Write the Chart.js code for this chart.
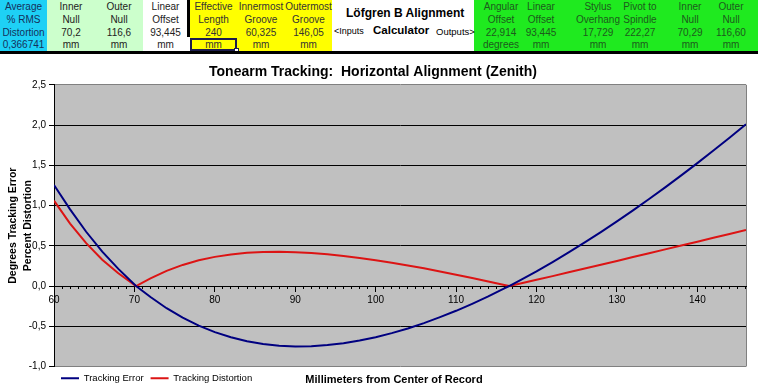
<!DOCTYPE html>
<html>
<head>
<meta charset="utf-8">
<script src="https://cdn.jsdelivr.net/npm/chart.js@4/dist/chart.umd.min.js"></script>
<style>
  body { margin: 0; width: 758px; height: 390px; overflow: hidden; background: #fff; position: relative;
         font-family: 'Liberation Sans', Arial, sans-serif; }
  .abs { position: absolute; }
  .cell { position: absolute; height: 13px; line-height: 13px; font-size: 10px; text-align: center; white-space: nowrap; }
  #chartBox { position: absolute; left: 0; top: 55px; width: 758px; height: 338px; }
  #xTitle { position: absolute; left: 294px; width: 200px; top: 373px; text-align: center;
            font-size: 11px; font-weight: bold; color: #000; }
</style>
</head>
<body>
<div id="sheet"></div>
<div id="chartBox"><canvas id="trackingChart" width="758" height="338"></canvas></div>
<div id="xTitle">Millimeters from Center of Record</div>
<script>
// radius across the record (mm) and the two curves
const radiusMm = [60, 62, 64, 66, 68, 70.2, 72, 74, 76, 78, 80, 82, 84, 86, 88, 90, 92, 94, 96, 98,
  100, 102, 104, 106, 108, 110, 112, 114, 116, 116.6, 118, 120, 122, 124, 126, 128, 130, 132, 134,
  136, 138, 140, 142, 144, 146.05];
const trackingError = [1.255, 0.953, 0.674, 0.428, 0.213, 0, -0.137, -0.276, -0.394, -0.492, -0.573,
  -0.637, -0.685, -0.720, -0.741, -0.750, -0.747, -0.734, -0.711, -0.677, -0.636, -0.585, -0.527,
  -0.461, -0.387, -0.308, -0.221, -0.129, -0.030, 0, 0.074, 0.183, 0.298, 0.417, 0.541, 0.670, 0.803,
  0.940, 1.081, 1.226, 1.375, 1.527, 1.683, 1.842, 2.009];
const trackingDistortion = [1.06, 0.776, 0.532, 0.327, 0.158, 0, 0.096, 0.188, 0.262, 0.319, 0.362,
  0.392, 0.412, 0.423, 0.425, 0.421, 0.410, 0.394, 0.374, 0.349, 0.321, 0.290, 0.256, 0.220, 0.181,
  0.141, 0.100, 0.057, 0.013, 0, 0.032, 0.077, 0.123, 0.170, 0.217, 0.264, 0.312, 0.360, 0.407, 0.455,
  0.503, 0.551, 0.599, 0.646, 0.695];
const xTickLabels = [60, 70, 80, 90, 100, 110, 120, 130, 140];
const yTicks = [-1.0, -0.5, 0, 0.5, 1.0, 1.5, 2.0, 2.5];

// spreadsheet header above the chart
const inputCols = [
  { x: 0, w: 47, bg: '#1ed0f5', color: '#15315c', lines: ['Average', '% RMS', 'Distortion', '0,366741'] },
  { x: 47, w: 48, bg: '#ccffcc', color: '#222', lines: ['Inner', 'Null', '70,2', 'mm'] },
  { x: 95, w: 48, bg: '#ccffcc', color: '#222', lines: ['Outer', 'Null', '116,6', 'mm'] },
  { x: 143, w: 45, bg: '#ffffff', color: '#222', lines: ['Linear', 'Offset', '93,445', 'mm'] },
  { x: 190, w: 47, bg: '#ffff00', color: '#333', lines: ['Effective', 'Length', '240', 'mm'] },
  { x: 237, w: 48, bg: '#ffff00', color: '#333', lines: ['Innermost', 'Groove', '60,325', 'mm'] },
  { x: 285, w: 47, bg: '#ffff00', color: '#333', lines: ['Outermost', 'Groove', '146,05', 'mm'] }
];
const outputCols = [
  { cx: 501, lines: ['Angular', 'Offset', '22,914', 'degrees'] },
  { cx: 541, lines: ['Linear', 'Offset', '93,445', 'mm'] },
  { cx: 598, lines: ['Stylus', 'Overhang', '17,729', 'mm'] },
  { cx: 640, lines: ['Pivot to', 'Spindle', '222,27', 'mm'] },
  { cx: 690, lines: ['Inner', 'Null', '70,29', 'mm'] },
  { cx: 731, lines: ['Outer', 'Null', '116,60', 'mm'] }
];
const rowTops = [0, 13, 26, 38];

const sheet = document.getElementById('sheet');
function addDiv(cls, style, text) {
  const d = document.createElement('div');
  d.className = cls;
  Object.assign(d.style, style);
  if (text !== undefined) d.textContent = text;
  sheet.appendChild(d);
  return d;
}

inputCols.forEach(col => {
  addDiv('abs', { left: col.x + 'px', top: '0px', width: col.w + 'px', height: '51px', background: col.bg });
  col.lines.forEach((t, i) => {
    addDiv('cell', { left: col.x + 'px', width: col.w + 'px', top: rowTops[i] + 'px', color: col.color }, t);
  });
});
addDiv('abs', { left: '474px', top: '0px', width: '284px', height: '51px', background: '#1fea1f' });
outputCols.forEach(col => {
  col.lines.forEach((t, i) => {
    addDiv('cell', { left: (col.cx - 40) + 'px', width: '80px', top: rowTops[i] + 'px', color: '#1d5a1d' }, t);
  });
});
// borders of the input block
addDiv('abs', { left: '187px', top: '0px', width: '3px', height: '37px', background: '#000' });
addDiv('abs', { left: '190px', top: '38px', width: '47px', height: '13px', border: '2px solid #1c1c4c', boxSizing: 'border-box' });
addDiv('abs', { left: '234px', top: '48px', width: '5px', height: '5px', background: '#fff', border: '1px solid #1c1c4c', boxSizing: 'border-box' });
addDiv('abs', { left: '0px', top: '51px', width: '758px', height: '3px', background: '#000' });
// calculator caption
addDiv('abs', { left: '346px', top: '6px', fontSize: '12px', fontWeight: 'bold', whiteSpace: 'nowrap' }, 'Löfgren B Alignment');
addDiv('abs', { left: '334px', top: '26px', fontSize: '9px', whiteSpace: 'nowrap' }, '<Inputs');
addDiv('abs', { left: '373px', top: '24px', fontSize: '11.5px', fontWeight: 'bold', whiteSpace: 'nowrap' }, 'Calculator');
addDiv('abs', { left: '436px', top: '26px', fontSize: '9.5px', whiteSpace: 'nowrap' }, 'Outputs>');

// chart
Chart.defaults.font.family = "'Liberation Sans', Arial, sans-serif";
Chart.defaults.color = '#000';

const plotBackground = {
  id: 'plotBackground',
  beforeDraw(chart) {
    const { ctx, chartArea: a } = chart;
    ctx.save();
    ctx.fillStyle = '#c0c0c0';
    ctx.fillRect(a.left, a.top, a.width, a.height);
    ctx.strokeStyle = '#808080';
    ctx.lineWidth = 1;
    ctx.beginPath();
    ctx.moveTo(Math.round(a.right) + 0.5, a.top);
    ctx.lineTo(Math.round(a.right) + 0.5, a.bottom);
    ctx.stroke();
    ctx.restore();
  }
};

const fmt = v => v.toFixed(1).replace('.', ',');

new Chart(document.getElementById('trackingChart'), {
  type: 'line',
  data: {
    datasets: [
      {
        label: 'Tracking Error',
        data: radiusMm.map((x, i) => ({ x, y: trackingError[i] })),
        borderColor: '#000080',
        backgroundColor: '#000080',
        borderWidth: 2,
        pointRadius: 0,
        pointStyle: 'line',
        tension: 0
      },
      {
        label: 'Tracking Distortion',
        data: radiusMm.map((x, i) => ({ x, y: trackingDistortion[i] })),
        borderColor: '#dc1414',
        backgroundColor: '#dc1414',
        borderWidth: 2,
        pointRadius: 0,
        pointStyle: 'line',
        tension: 0
      }
    ]
  },
  options: {
    responsive: false,
    animation: false,
    devicePixelRatio: 1,
    layout: { padding: { left: 0, right: 12, top: 0, bottom: 0 } },
    plugins: {
      title: {
        display: true,
        text: 'Tonearm Tracking:  Horizontal Alignment (Zenith)',
        font: { size: 14, weight: 'bold' },
        color: '#000',
        padding: { top: 9, bottom: 4 }
      },
      legend: {
        position: 'bottom',
        align: 'start',
        fullSize: false,
        labels: {
          usePointStyle: true,
          pointStyle: 'line',
          pointStyleWidth: 18,
          font: { size: 9.5 },
          color: '#000',
          padding: 7
        }
      },
      tooltip: { enabled: false }
    },
    scales: {
      x: {
        type: 'linear',
        position: { y: 0 },
        min: 60,
        max: 146.05,
        afterFit(scale) { scale.height = 0; },
        afterBuildTicks(scale) {
          const ticks = [];
          for (let v = 60; v <= 146; v++) ticks.push({ value: v });
          scale.ticks = ticks;
        },
        ticks: {
          autoSkip: false,
          maxRotation: 0,
          padding: 3,
          font: { size: 10 },
          color: '#000',
          callback: v => (xTickLabels.includes(v) ? String(v) : '')
        },
        grid: {
          drawOnChartArea: false,
          drawTicks: true,
          tickLength: 5,
          tickColor: '#000',
          tickBorderDash: ctx => (xTickLabels.includes(ctx.tick && ctx.tick.value) ? [] : [2, 10])
        },
        border: { display: true, color: '#000', width: 1 }
      },
      y: {
        min: -1,
        max: 2.5,
        afterFit(scale) { scale.width = 54; },
        afterBuildTicks(scale) { scale.ticks = yTicks.map(v => ({ value: v })); },
        ticks: {
          padding: 3,
          font: { size: 10 },
          color: '#000',
          callback: v => fmt(v)
        },
        grid: {
          color: ctx => (ctx.tick && (ctx.tick.value === 2.5 || ctx.tick.value === -1) ? '#808080' : '#000'),
          lineWidth: 1,
          drawTicks: true,
          tickLength: 5,
          tickColor: '#000'
        },
        border: { display: true, color: '#000', width: 1 },
        title: {
          display: true,
          text: ['Degrees Tracking Error', 'Percent Distortion'],
          font: { size: 10.5, weight: 'bold', lineHeight: 1.45 },
          color: '#000',
          padding: { top: 5, bottom: 0 }
        }
      }
    }
  },
  plugins: [plotBackground]
});
</script>
</body>
</html>
